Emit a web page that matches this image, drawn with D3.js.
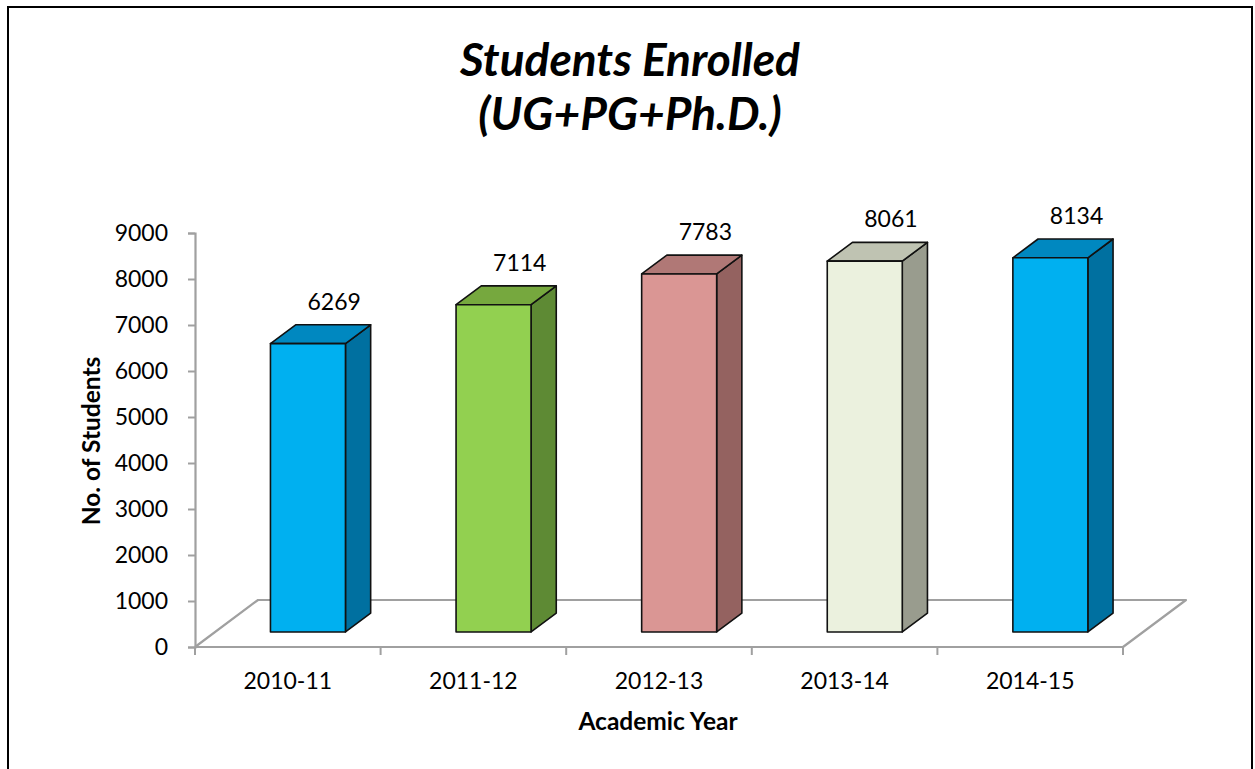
<!DOCTYPE html>
<html>
<head>
<meta charset="utf-8">
<script src="https://cdn.jsdelivr.net/npm/d3@7"></script>
<style>
  html, body { margin: 0; padding: 0; background: #fff; }
  svg { display: block; }
</style>
</head>
<body>
<svg id="chart" width="1255" height="769"></svg>
<script>
// ---- data ----
const categories = ["2010-11", "2011-12", "2012-13", "2013-14", "2014-15"];
const values = [6269, 7114, 7783, 8061, 8134];
const yTicks = [0, 1000, 2000, 3000, 4000, 5000, 6000, 7000, 8000, 9000];
const titleLines = ["Students Enrolled", "(UG+PG+Ph.D.)"];
const xTitle = "Academic Year";
const yTitle = "No. of Students";

// ---- styles ----
const frontColors = ["#00B0F0", "#92D050", "#DA9694", "#EBF1DE", "#00B0F0"];
const sideColors  = ["#0070A0", "#5E8A34", "#946260", "#999C8E", "#0070A0"];
const topColors   = ["#0088C0", "#76A83E", "#B07876", "#BFC3B2", "#0088C0"];
const FONT = "Lato, 'Open Sans', sans-serif";
const axisGray = "#A0A0A0";

const svg = d3.select("#chart");

// frame
svg.append("rect").attr("x", 8).attr("y", 7).attr("width", 1244).attr("height", 820)
  .attr("fill", "none").attr("stroke", "#000").attr("stroke-width", 2);

// scales
const left = 195, right = 1123;
const x = d3.scaleBand().domain(categories).range([left, right]);
const y = d3.scaleLinear().domain([0, 9000]).range([647, 233]);
const depth = [63, -47];          // full floor depth vector
const t0 = 0.32, t1 = 0.72;       // bar front/back depth fractions
const barW = 75;

// floor
const f = [[left, y(0)], [right, y(0)], [right + depth[0], y(0) + depth[1]], [left + depth[0], y(0) + depth[1]]];
svg.append("path")
  .attr("d", `M${f[0]}L${f[1]}M${f[0]}L${f[3]}L${f[2]}L${f[1]}`)
  .attr("fill", "none").attr("stroke", axisGray).attr("stroke-width", 2.2)
  .attr("stroke-linejoin", "round");

// y axis
const yAxis = d3.axisLeft(y).tickValues(yTicks).tickSize(7).tickPadding(20).tickFormat(d3.format("d"));
const gy = svg.append("g").attr("transform", `translate(${left},0)`).call(yAxis);
gy.select(".domain").attr("stroke", axisGray).attr("stroke-width", 2.2);
gy.selectAll(".tick line").attr("stroke", axisGray).attr("stroke-width", 2);
gy.selectAll(".tick text").attr("font-family", FONT).attr("font-size", 23).attr("fill", "#000");

// x axis
const xAxis = d3.axisBottom(x).tickSize(0).tickPadding(26);
const gx = svg.append("g").attr("transform", `translate(0,${y(0)})`).call(xAxis);
gx.select(".domain").remove();
gx.selectAll(".tick text").attr("font-family", FONT).attr("font-size", 23).attr("fill", "#000");
// x ticks at band boundaries
const bounds = categories.map(c => x(c)).concat([right]);
svg.append("g").selectAll("line").data(bounds).join("line")
  .attr("x1", d => d).attr("x2", d => d)
  .attr("y1", y(0)).attr("y2", y(0) + 8)
  .attr("stroke", axisGray).attr("stroke-width", 2);

// bars
const fx = t0 * depth[0], fy = t0 * depth[1];
const sx = (t1 - t0) * depth[0], sy = (t1 - t0) * depth[1];
const bars = svg.append("g").selectAll("g").data(values).join("g");
bars.each(function(v, i) {
  const g = d3.select(this);
  const x0 = x(categories[i]) + (x.bandwidth() - barW) / 2 + fx;
  const x1 = x0 + barW;
  const yb = y(0) + fy, yt = y(v) + fy;
  const stroke = { "stroke": "#111", "stroke-width": 1.6, "stroke-linejoin": "round" };
  const poly = (pts, fill) => {
    const p = g.append("polygon").attr("points", pts.map(q => q.join(",")).join(" ")).attr("fill", fill);
    Object.entries(stroke).forEach(([k, val]) => p.attr(k, val));
  };
  poly([[x1, yt], [x1, yb], [x1 + sx, yb + sy], [x1 + sx, yt + sy]], sideColors[i]);
  poly([[x0, yt], [x1, yt], [x1 + sx, yt + sy], [x0 + sx, yt + sy]], topColors[i]);
  poly([[x0, yt], [x1, yt], [x1, yb], [x0, yb]], frontColors[i]);
  g.append("text")
    .attr("x", (x0 + x1) / 2 + sx + 1)
    .attr("y", yt + sy - 24)
    .attr("text-anchor", "middle").attr("dominant-baseline", "central")
    .attr("font-family", FONT).attr("font-size", 23).attr("fill", "#000")
    .text(d3.format("d")(v));
});

// titles
const tt = svg.append("text").attr("text-anchor", "middle")
  .attr("font-family", FONT).attr("font-size", 46).attr("font-weight", "bold").attr("font-style", "italic");
tt.selectAll("tspan").data(titleLines).join("tspan")
  .attr("x", 630).attr("y", (d, i) => 76 + i * 54).text(d => d);

svg.append("text").attr("x", 658).attr("y", 730).attr("text-anchor", "middle")
  .attr("font-family", FONT).attr("font-size", 24.5).attr("font-weight", "bold").text(xTitle);

svg.append("text").attr("transform", "translate(100,441) rotate(-90)").attr("text-anchor", "middle")
  .attr("font-family", FONT).attr("font-size", 24.5).attr("font-weight", "bold").text(yTitle);
</script>
</body>
</html>
